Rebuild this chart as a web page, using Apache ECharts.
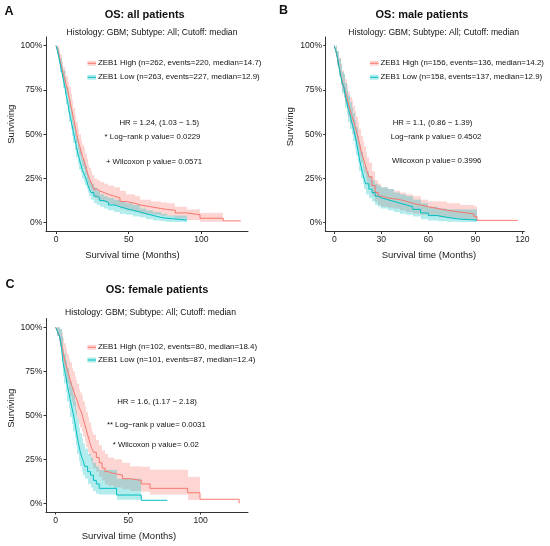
<!DOCTYPE html>
<html style="height: 100%">
<head>
<meta charset="utf-8">
</head>
<body style="height: 100%; margin: 0; background: #fff">
<div id="container" style="width: 550px; height: 546px"></div>
<script type="text/javascript" src="https://cdn.jsdelivr.net/npm/echarts@6/dist/echarts.min.js"></script>
<script type="text/javascript">
// ---------- data (months, survival fraction) ----------
// Panel A: all patients
var aHighTime = [0,1,2,3,4,5,6,7,8,9,10,11,12,13,14,15,16,17,18,19,20,21,22,23,24,25,26,28,30,33,36,40,44,48,54,58,65,72,76,82,90,99,115,127];
var aHighSurv = [1,.98,.95,.91,.87,.84,.81,.78,.75,.71,.67,.63,.59,.55,.51,.47,.44,.41,.38,.36,.33,.30,.27,.25,.23,.21,.19,.18,.17,.16,.15,.14,.12,.11,.10,.09,.08,.075,.07,.055,.045,.025,.01,.01];
var aHighLow  = [1,.96,.92,.88,.83,.79,.76,.73,.70,.65,.61,.57,.53,.49,.45,.41,.38,.35,.32,.30,.27,.24,.22,.20,.18,.16,.14,.13,.12,.115,.105,.095,.08,.07,.06,.05,.045,.04,.035,.025,.015,.005,null,null];
var aHighUp   = [1,1,.98,.95,.91,.88,.86,.83,.80,.77,.73,.69,.65,.61,.57,.53,.50,.47,.44,.42,.39,.36,.33,.31,.29,.27,.25,.24,.23,.22,.21,.20,.18,.16,.15,.13,.12,.115,.11,.09,.075,.055,null,null];
var aLowTime  = [0,1,2,3,4,5,6,7,8,9,10,11,12,13,14,15,16,17,18,19,20,21,22,23,24,26,28,30,33,36,40,44,48,53,58,62,67,72,76,90];
var aLowSurv  = [1,.97,.93,.89,.85,.81,.77,.72,.68,.63,.59,.55,.51,.47,.43,.39,.36,.33,.30,.28,.26,.24,.21,.19,.17,.15,.14,.125,.115,.10,.09,.08,.07,.06,.05,.04,.03,.025,.015,.015];
var aLowLow   = [1,.95,.90,.85,.81,.76,.72,.67,.62,.57,.53,.49,.45,.41,.37,.33,.30,.28,.25,.23,.21,.19,.17,.15,.13,.11,.10,.09,.08,.07,.06,.05,.045,.035,.03,.02,.012,.008,.004,.004];
var aLowUp    = [1,.99,.96,.93,.89,.86,.82,.77,.74,.69,.65,.61,.57,.53,.49,.45,.42,.39,.36,.34,.32,.29,.26,.24,.22,.20,.18,.16,.15,.14,.13,.12,.11,.10,.08,.07,.06,.05,.04,.04];

// Panel B: male patients
var bHighTime = [0,1,2,3,4,5,6,7,8,9,10,11,12,13,14,15,16,17,18,19,20,21,22,24,26,28,30,34,38,42,46,50,55,60,66,72,80,89,91,117];
var bHighSurv = [1,.97,.93,.88,.84,.80,.77,.74,.71,.67,.64,.61,.58,.55,.52,.49,.45,.41,.38,.35,.32,.29,.26,.21,.17,.15,.14,.135,.13,.12,.11,.10,.09,.08,.07,.06,.05,.035,.013,.013];
var bHighLow  = [1,.94,.89,.83,.78,.74,.70,.67,.64,.60,.56,.53,.50,.47,.44,.41,.37,.34,.31,.28,.25,.22,.20,.15,.12,.10,.09,.085,.08,.07,.06,.05,.045,.04,.03,.025,.02,.01,null,null];
var bHighUp   = [1,1,.97,.93,.90,.86,.84,.81,.78,.74,.71,.69,.66,.63,.60,.57,.53,.49,.46,.43,.40,.37,.34,.29,.24,.22,.20,.19,.18,.17,.16,.15,.13,.12,.12,.11,.10,.093,null,null];
var bLowTime  = [0,1,2,3,4,5,6,7,8,9,10,11,12,13,14,15,16,17,18,19,20,22,24,26,28,30,34,38,42,46,50,55,60,66,72,80,91];
var bLowSurv  = [1,.97,.93,.88,.83,.79,.77,.72,.68,.64,.61,.57,.54,.50,.46,.41,.36,.32,.28,.25,.22,.19,.17,.15,.14,.13,.12,.11,.10,.09,.075,.055,.04,.03,.02,.015,.013];
var bLowLow   = [1,.94,.89,.83,.78,.73,.71,.65,.61,.57,.53,.50,.46,.42,.38,.34,.29,.25,.22,.19,.16,.14,.12,.10,.09,.08,.07,.06,.05,.045,.035,.02,.012,.008,.005,.003,.003];
var bLowUp    = [1,1,.97,.93,.89,.85,.84,.79,.75,.72,.68,.65,.62,.58,.54,.49,.44,.40,.35,.32,.29,.26,.24,.22,.21,.20,.19,.17,.16,.15,.13,.11,.09,.08,.075,.075,.075];

// Panel C: female patients
var cHighTime = [0,1,2,3,4,5,6,7,8,9,10,11,12,13,14,15,16,17,18,19,20,21,22,23,24,25,26,28,30,32,34,36,40,46,51,59,65,91,99.5,126.5];
var cHighSurv = [1,.98,.96,.94,.90,.86,.82,.79,.76,.73,.70,.67,.65,.62,.60,.58,.55,.53,.51,.48,.45,.42,.39,.36,.33,.31,.29,.26,.23,.20,.18,.17,.16,.14,.13,.11,.085,.06,.023,0];
var cHighLow  = [1,.95,.92,.89,.84,.79,.75,.71,.68,.64,.61,.58,.55,.52,.50,.48,.45,.43,.41,.38,.35,.32,.29,.27,.24,.22,.20,.18,.15,.13,.11,.10,.09,.08,.07,.066,.05,.019,null,null];
var cHighUp   = [1,1,1,.99,.97,.94,.91,.88,.85,.82,.80,.77,.75,.72,.70,.68,.65,.63,.61,.58,.55,.52,.49,.46,.43,.41,.39,.36,.33,.30,.28,.26,.25,.23,.21,.208,.19,.15,null,null];
var cLowTime  = [0,1,2,3,4,5,6,7,8,9,10,11,12,13,14,15,16,17,18,19,20,22,24,26,28,30,42,59,77];
var cLowSurv  = [1,.98,.96,.94,.88,.80,.76,.72,.67,.63,.59,.55,.51,.47,.42,.37,.33,.29,.26,.24,.21,.18,.16,.13,.11,.085,.047,.017,.017];
var cLowLow   = [1,.95,.92,.89,.82,.72,.68,.63,.58,.54,.49,.45,.41,.37,.33,.28,.24,.21,.18,.16,.14,.11,.09,.07,.055,.05,.02,null,null];
var cLowUp    = [1,1,1,.99,.95,.88,.85,.81,.77,.73,.69,.66,.62,.58,.53,.48,.43,.40,.37,.34,.31,.28,.26,.23,.21,.19,.14,null,null];

// ---------- labels ----------
var xTicksA = [0, 50, 100];
var xTicksB = [0, 30, 60, 90, 120];
var xTicksC = [0, 50, 100];
var yTicks = [0, 0.25, 0.5, 0.75, 1];
var titles = ['OS: all patients', 'OS: male patients', 'OS: female patients'];
var subtitle = 'Histology: GBM; Subtype: All; Cutoff: median';
var highNames = ['ZEB1 High (n=262, events=220, median=14.7)', 'ZEB1 High (n=156, events=136, median=14.2)', 'ZEB1 High (n=102, events=80, median=18.4)'];
var lowNames = ['ZEB1 Low (n=263, events=227, median=12.9)', 'ZEB1 Low (n=158, events=137, median=12.9)', 'ZEB1 Low (n=101, events=87, median=12.4)'];
var statsA = ['HR = 1.24, (1.03 \u2212 1.5)', '* Log\u2212rank p value= 0.0229', '+ Wilcoxon p value= 0.0571'];
var statsB = ['HR = 1.1, (0.86 \u2212 1.39)', 'Log\u2212rank p value= 0.4502', 'Wilcoxon p value= 0.3996'];
var statsC = ['HR = 1.6, (1.17 \u2212 2.18)', '** Log\u2212rank p value= 0.0031', '* Wilcoxon p value= 0.02'];

var FONT = '"Liberation Sans", Arial, Helvetica, sans-serif';
var RED = '#F8766D', CYAN = '#00BFC4';
var RED_BAND = 'rgba(248,118,109,0.3)', CYAN_BAND = 'rgba(0,191,196,0.3)';

var dom = document.getElementById('container');
var myChart = echarts.init(dom, null, {renderer: 'canvas'});

function stepData(t, s) {
    var d = [];
    for (var i = 0; i < t.length; i++) d.push([t[i], s[i]]);
    return d;
}
function bandData(t, lo, hi) {
    var d = [];
    for (var i = 0; i < t.length - 1; i++) {
        if (lo[i] != null) d.push([t[i], t[i + 1], lo[i], hi[i]]);
    }
    return d;
}
function bandItem(params, api) {
    var a = api.coord([api.value(0), api.value(3)]);
    var b = api.coord([api.value(1), api.value(2)]);
    var x0 = Math.round(a[0]), x1 = Math.round(b[0]);
    return {
        type: 'rect',
        shape: {x: x0, y: a[1], width: x1 - x0, height: b[1] - a[1]},
        style: {fill: api.visual('color')},
        silent: true
    };
}

var grids = [
    {left: 46, top: 36.9, width: 202, height: 194.6},
    {left: 325.7, top: 36.9, width: 198.6, height: 194.6},
    {left: 46, top: 318.5, width: 202, height: 193.6}
];
var xRanges = [[-6.9, 132], [-5.5, 121.2], [-6.7, 132.6]];
var xTickSets = [xTicksA, xTicksB, xTicksC];
// axis titles are not centred on the panels in the original
var xNamePad = [[0, 29, 0, 0], [0, 0, 0, 8], [0, 36, 0, 0]];
var yNamePad = [[0, 0, 0, 20], [0, 0, 0, 15], [0, 0, 0, 14]];
var curves = [
    [aHighTime, aHighSurv, aHighLow, aHighUp, aLowTime, aLowSurv, aLowLow, aLowUp],
    [bHighTime, bHighSurv, bHighLow, bHighUp, bLowTime, bLowSurv, bLowLow, bLowUp],
    [cHighTime, cHighSurv, cHighLow, cHighUp, cLowTime, cLowSurv, cLowLow, cLowUp]
];

var xAxes = [], yAxes = [], series = [];
for (var g = 0; g < 3; g++) {
    xAxes.push({
        type: 'value', gridIndex: g, min: xRanges[g][0], max: xRanges[g][1],
        axisLine: {show: true, onZero: false, lineStyle: {color: '#333', width: 1}},
        axisTick: {show: true, length: 2.5, customValues: xTickSets[g], lineStyle: {color: '#333'}},
        axisLabel: {customValues: xTickSets[g], fontSize: 8.6, color: '#222', margin: 4, fontFamily: FONT},
        splitLine: {show: false},
        name: 'Survival time (Months)', nameLocation: 'middle', nameGap: 19,
        nameTextStyle: {fontSize: 9.5, color: '#222', fontFamily: FONT, padding: xNamePad[g]}
    });
    yAxes.push({
        type: 'value', gridIndex: g, min: -0.05, max: 1.05,
        axisLine: {show: true, onZero: false, lineStyle: {color: '#333', width: 1}},
        axisTick: {show: true, length: 2.5, customValues: yTicks, lineStyle: {color: '#333'}},
        axisLabel: {customValues: yTicks, fontSize: 8.6, color: '#222', margin: 3.5, fontFamily: FONT,
            formatter: function (v) { return Math.round(v * 100) + '%'; }},
        splitLine: {show: false},
        name: 'Surviving', nameLocation: 'middle', nameGap: 30,
        nameTextStyle: {fontSize: 9.5, color: '#222', fontFamily: FONT, padding: yNamePad[g]}
    });
    var c = curves[g];
    series.push({
        type: 'custom', name: highNames[g] + ' CI', xAxisIndex: g, yAxisIndex: g,
        renderItem: bandItem, itemStyle: {color: RED_BAND},
        encode: {x: [0, 1], y: [2, 3]}, data: bandData(c[0], c[2], c[3]), z: 1
    });
    series.push({
        type: 'custom', name: lowNames[g] + ' CI', xAxisIndex: g, yAxisIndex: g,
        renderItem: bandItem, itemStyle: {color: CYAN_BAND},
        encode: {x: [0, 1], y: [2, 3]}, data: bandData(c[4], c[6], c[7]), z: 1
    });
    series.push({
        type: 'line', name: highNames[g], xAxisIndex: g, yAxisIndex: g, step: 'end',
        symbol: 'none', lineStyle: {color: RED, width: 1}, itemStyle: {color: RED},
        data: stepData(c[0], c[1]), z: 2, animation: false
    });
    series.push({
        type: 'line', name: lowNames[g], xAxisIndex: g, yAxisIndex: g, step: 'end',
        symbol: 'none', lineStyle: {color: CYAN, width: 1}, itemStyle: {color: CYAN},
        data: stepData(c[4], c[5]), z: 3, animation: false
    });
}

// text helpers (titles, legends, statistics)
function txt(x, y, text, size, bold, align) {
    return {
        type: 'text', x: x, y: y, silent: true,
        style: {
            text: text, fill: '#111',
            font: (bold ? 'bold ' : '') + size + 'px ' + FONT,
            align: align || 'center', textAlign: align || 'center',
            verticalAlign: 'middle', textVerticalAlign: 'middle'
        }
    };
}
function key(x, y, line, band) {
    return [
        {type: 'rect', silent: true, shape: {x: x, y: y - 2.5, width: 8.5, height: 5}, style: {fill: band}},
        {type: 'line', silent: true, shape: {x1: x, y1: y, x2: x + 8.5, y2: y}, style: {stroke: line, lineWidth: 1}}
    ];
}

var graphics = [];
// panel letters
graphics.push(txt(9, 12, 'A', 12.5, true));
graphics.push(txt(283.5, 11, 'B', 12.5, true));
graphics.push(txt(10, 285, 'C', 12.5, true));
// titles and subtitles
graphics.push(txt(144.7, 15, titles[0], 11, true));
graphics.push(txt(152, 32.7, subtitle, 8.6, false));
graphics.push(txt(422, 15, titles[1], 11, true));
graphics.push(txt(433.7, 32.7, subtitle, 8.6, false));
graphics.push(txt(157, 290, titles[2], 11, true));
graphics.push(txt(150.5, 312.7, subtitle, 8.6, false));
// legends
var legendPos = [[87.5, 63.3, 77.3], [370, 63.3, 77.3], [87.5, 347.3, 360]];
for (var k = 0; k < 3; k++) {
    var lp = legendPos[k];
    graphics = graphics.concat(key(lp[0], lp[1], RED, RED_BAND));
    graphics = graphics.concat(key(lp[0], lp[2], CYAN, CYAN_BAND));
    graphics.push(txt(lp[0] + 10.5, lp[1], highNames[k], 7.9, false, 'left'));
    graphics.push(txt(lp[0] + 10.5, lp[2], lowNames[k], 7.9, false, 'left'));
}
// statistics
var statPos = [
    [[159.3, 122.7], [152.5, 136.7], [154, 161.7]],
    [[432.5, 122.7], [436, 136.7], [436.7, 161]],
    [[157, 401.7], [156.3, 425], [155.8, 445]]
];
var statTexts = [statsA, statsB, statsC];
for (var p = 0; p < 3; p++) {
    for (var j = 0; j < 3; j++) {
        graphics.push(txt(statPos[p][j][0], statPos[p][j][1], statTexts[p][j], 7.8, false));
    }
}

var option = {
    backgroundColor: '#fff',
    animation: false,
    grid: grids,
    xAxis: xAxes,
    yAxis: yAxes,
    series: series,
    graphic: graphics
};
myChart.setOption(option, true);
</script>
</body>
</html>
